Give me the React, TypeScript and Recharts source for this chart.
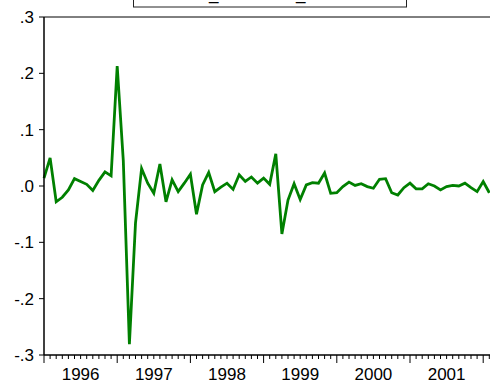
import { LineChart, Line, XAxis, YAxis, ReferenceLine } from "recharts";

// monthly series, Jan 1996 onward
const YEARS = [1996, 1997, 1998, 1999, 2000, 2001];
const VALUES = [
  0.014, 0.05, -0.028, -0.02, -0.007, 0.013, 0.008, 0.003, -0.008, 0.01, 0.025, 0.018,
  0.213, 0.045, -0.281, -0.066, 0.031, 0.005, -0.013, 0.039, -0.028, 0.011, -0.01, 0.005,
  0.021, -0.05, 0.002, 0.024, -0.01, -0.002, 0.005, -0.006, 0.02, 0.008, 0.016, 0.005,
  0.014, 0.003, 0.057, -0.085, -0.025, 0.004, -0.024, 0.002, 0.006, 0.005, 0.023, -0.013,
  -0.012, -0.001, 0.007, 0.001, 0.004, -0.001, -0.004, 0.012, 0.013, -0.012, -0.016, -0.003,
  0.005, -0.005, -0.005, 0.004, 0, -0.007, -0.001, 0.001, 0, 0.005, -0.003, -0.01,
  0.008, -0.012,
];
const Y_TICKS = [-0.3, -0.2, -0.1, 0, 0.1, 0.2, 0.3];
const LEGEND_LABEL = "GDPR_GROWTH_SA";

const MONTHS_SHOWN = 74;
const monthTicks = Array.from({ length: MONTHS_SHOWN + 1 }, (_, i) => i);
const data = VALUES.map((v, i) => ({ i, v }));

const FONT = "'Liberation Sans', Arial, sans-serif";

function fmtY(v: number) {
  const n = Math.round(Math.abs(v) * 10);
  return (v < 0 ? "-" : "") + "." + n;
}

function MonthTick(props: any) {
  const { x, y, payload } = props;
  const m = payload.value as number;
  const major = m % 12 === 0;
  const yearIdx = Math.floor(m / 12);
  return (
    <g>
      <line x1={x} x2={x} y1={y} y2={y + (major ? 8 : 4)} stroke="#000" strokeWidth={1} />
      {m % 12 === 6 && YEARS[yearIdx] !== undefined && (
        <text x={x} y={y + 24.5} textAnchor="middle" fontSize={17} fontFamily={FONT} fill="#000">
          {YEARS[yearIdx]}
        </text>
      )}
    </g>
  );
}

export default function App() {
  return (
    <div style={{ position: "absolute", left: 0, top: 0, width: 490, height: 381, overflow: "hidden", background: "#fff" }}>
      <LineChart width={500} height={381} data={data} margin={{ top: 17, right: 4.6, bottom: 0, left: 0 }}>
        <XAxis
          dataKey="i"
          type="number"
          domain={[0, MONTHS_SHOWN]}
          ticks={monthTicks}
          interval={0}
          height={26}
          tickSize={0}
          tickMargin={0}
          tickLine={false}
          axisLine={{ stroke: "#000", strokeWidth: 1.5 }}
          tick={<MonthTick />}
        />
        <YAxis
          type="number"
          domain={[-0.3, 0.3]}
          ticks={Y_TICKS}
          interval={0}
          width={44}
          tickSize={5}
          tickMargin={5}
          tickFormatter={fmtY}
          tickLine={{ stroke: "#000" }}
          axisLine={{ stroke: "#000", strokeWidth: 1.5 }}
          tick={{ fill: "#000", fontSize: 17, fontFamily: FONT }}
          allowDataOverflow
        />
        <ReferenceLine y={0.3} stroke="#000" strokeWidth={1} />
        <Line
          type="linear"
          dataKey="v"
          stroke="#008000"
          strokeWidth={2.8}
          dot={false}
          isAnimationActive={false}
        />
      </LineChart>
      <svg width={490} height={20} style={{ position: "absolute", left: 0, top: 0 }}>
        <rect x={133.5} y={-20} width={273} height={27} fill="#fff" stroke="#222" strokeWidth={1} />
        <text x={160} y={0} fontSize={17} fontFamily={FONT} fill="#000">
          {LEGEND_LABEL}
        </text>
      </svg>
    </div>
  );
}
